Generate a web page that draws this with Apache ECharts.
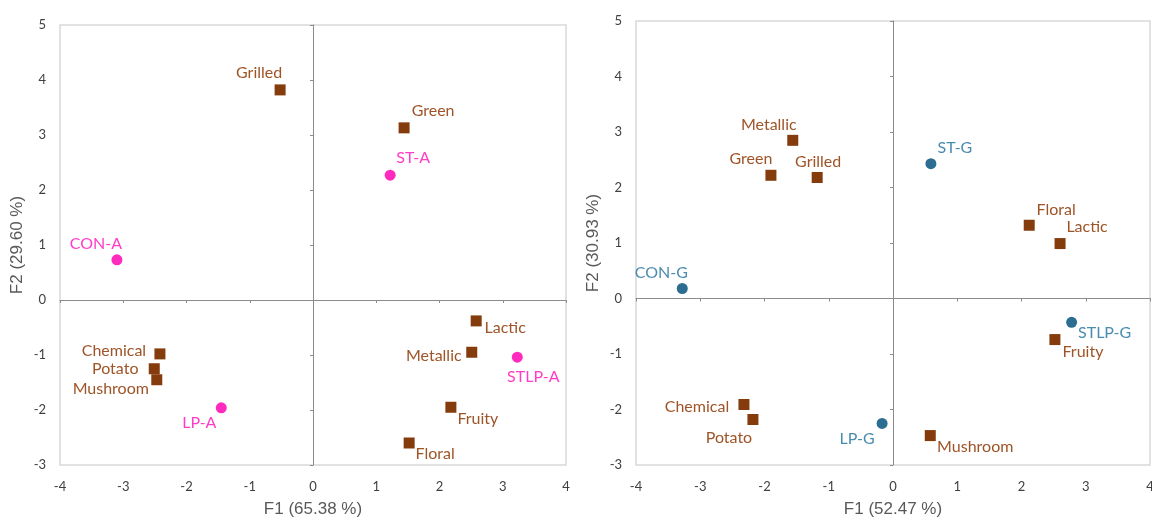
<!DOCTYPE html>
<html><head><meta charset="utf-8">
<script src="https://cdn.jsdelivr.net/npm/echarts@6/dist/echarts.min.js"></script>
<style>html,body{margin:0;padding:0;background:#fff}#c{width:1152px;height:521px}</style>
</head><body><div id="c"></div>
<script>
// ---- Data ----
const xTicks = [-4, -3, -2, -1, 0, 1, 2, 3, 4];
const yTicks = [-3, -2, -1, 0, 1, 2, 3, 4, 5];
const xTitleA = 'F1 (65.38 %)';
const yTitleA = 'F2 (29.60 %)';
const xTitleG = 'F1 (52.47 %)';
const yTitleG = 'F2 (30.93 %)';

const attrNamesA = ['Grilled', 'Green', 'Lactic', 'Metallic', 'Fruity', 'Floral', 'Chemical', 'Potato', 'Mushroom'];
const attrF1A = [-0.52, 1.44, 2.58, 2.51, 2.18, 1.52, -2.42, -2.51, -2.47];
const attrF2A = [3.82, 3.13, -0.38, -0.95, -1.95, -2.60, -0.98, -1.25, -1.45];
const sampleNamesA = ['ST-A', 'CON-A', 'STLP-A', 'LP-A'];
const sampleF1A = [1.22, -3.10, 3.23, -1.45];
const sampleF2A = [2.27, 0.73, -1.04, -1.96];

const attrNamesG = ['Metallic', 'Green', 'Grilled', 'Floral', 'Lactic', 'Fruity', 'Chemical', 'Potato', 'Mushroom'];
const attrF1G = [-1.56, -1.90, -1.18, 2.12, 2.60, 2.52, -2.32, -2.18, 0.58];
const attrF2G = [2.85, 2.22, 2.18, 1.32, 0.99, -0.74, -1.91, -2.18, -2.47];
const sampleNamesG = ['ST-G', 'CON-G', 'STLP-G', 'LP-G'];
const sampleF1G = [0.59, -3.28, 2.78, -0.17];
const sampleF2G = [2.43, 0.18, -0.43, -2.25];

// ---- Styling (label offsets relative to marker, px) ----
const offA = {
  'Grilled': [-21, -17], 'Green': [29, -17], 'Lactic': [29, 7], 'Metallic': [-38, 4],
  'Fruity': [27, 12], 'Floral': [26, 11], 'Chemical': [-46, -3], 'Potato': [-39, 0],
  'Mushroom': [-46, 9], 'ST-A': [23, -17], 'CON-A': [-21, -16], 'STLP-A': [16, 20], 'LP-A': [-22, 15]
};
const offG = {
  'Metallic': [-24, -15], 'Green': [-20, -16], 'Grilled': [1, -16], 'Floral': [27, -15],
  'Lactic': [27, -17], 'Fruity': [28, 12], 'Chemical': [-47, 2], 'Potato': [-24, 18],
  'Mushroom': [45, 11], 'ST-G': [24, -16], 'CON-G': [-21, -16], 'STLP-G': [33, 10], 'LP-G': [-25, 15]
};

const brownMarker = '#843C0C', brownText = '#9E5427';
const pinkMarker = '#FF2BBF', pinkText = '#FF3CC6';
const blueMarker = '#2C6E92', blueText = '#4A8CB0';
const font = 'Lato, "Open Sans", sans-serif';

function pts(names, xs, ys, offs, textColor) {
  return names.map((n, i) => ({
    name: n, value: [xs[i], ys[i]],
    label: { offset: offs[n], color: textColor }
  }));
}

function axesFor(gi, xTitle, yTitle) {
  const min = xTicks[0], max = xTicks[xTicks.length - 1];
  const ymin = yTicks[0], ymax = yTicks[yTicks.length - 1];
  const common = {
    type: 'value', gridIndex: gi, interval: 1, splitLine: { show: false }
  };
  const nameStyle = { color: '#595959', fontSize: 17, fontFamily: '"Liberation Sans", Arial, sans-serif' };
  const x = [
    Object.assign({}, common, {
      min, max, position: 'bottom',
      axisLine: { show: false, onZero: false }, axisTick: { show: false },
      axisLabel: { color: '#404040', fontSize: 13, fontFamily: font, margin: 15 },
      name: xTitle, nameLocation: 'middle', nameGap: 36, nameTextStyle: nameStyle
    }),
    Object.assign({}, common, {
      min, max, position: 'bottom',
      axisLine: { show: true, onZero: true, lineStyle: { color: '#8C8C8C', width: 1 } },
      axisTick: { show: true, length: 3, lineStyle: { color: '#8C8C8C' } },
      axisLabel: { show: false }
    })
  ];
  const y = [
    Object.assign({}, common, {
      min: ymin, max: ymax, position: 'left',
      axisLine: { show: false, onZero: false }, axisTick: { show: false },
      axisLabel: { color: '#404040', fontSize: 13, fontFamily: font, margin: 14 },
      name: yTitle, nameLocation: 'middle', nameGap: 34, nameRotate: 90, nameTextStyle: nameStyle
    }),
    Object.assign({}, common, {
      min: ymin, max: ymax, position: 'left',
      axisLine: { show: true, onZero: true, lineStyle: { color: '#8C8C8C', width: 1 } },
      axisTick: { show: true, length: 3, lineStyle: { color: '#8C8C8C' } },
      axisLabel: { show: false }
    })
  ];
  return { x, y };
}

const aA = axesFor(0, xTitleA, yTitleA);
const aG = axesFor(1, xTitleG, yTitleG);

const labelBase = { show: true, position: 'inside', fontSize: 16, fontFamily: font, formatter: '{b}' };

const option = {
  animation: false,
  backgroundColor: '#ffffff',
  grid: [
    { left: 60, right: 586, top: 25, bottom: 56, outerBoundsMode: 'none', containLabel: false, show: true, borderColor: '#D9D9D9', borderWidth: 1.5, backgroundColor: 'transparent' },
    { left: 636, right: 2, top: 21, bottom: 56, outerBoundsMode: 'none', containLabel: false, show: true, borderColor: '#D9D9D9', borderWidth: 1.5, backgroundColor: 'transparent' }
  ],
  xAxis: [aA.x[0], aA.x[1], aG.x[0], aG.x[1]],
  yAxis: [aA.y[0], aA.y[1], aG.y[0], aG.y[1]],
  series: [
    { type: 'scatter', xAxisIndex: 0, yAxisIndex: 0, symbol: 'rect', symbolSize: 11,
      itemStyle: { color: brownMarker, opacity: 1 }, label: labelBase,
      data: pts(attrNamesA, attrF1A, attrF2A, offA, brownText) },
    { type: 'scatter', xAxisIndex: 0, yAxisIndex: 0, symbol: 'circle', symbolSize: 11,
      itemStyle: { color: pinkMarker, opacity: 1 }, label: labelBase,
      data: pts(sampleNamesA, sampleF1A, sampleF2A, offA, pinkText) },
    { type: 'scatter', xAxisIndex: 2, yAxisIndex: 2, symbol: 'rect', symbolSize: 11,
      itemStyle: { color: brownMarker, opacity: 1 }, label: labelBase,
      data: pts(attrNamesG, attrF1G, attrF2G, offG, brownText) },
    { type: 'scatter', xAxisIndex: 2, yAxisIndex: 2, symbol: 'circle', symbolSize: 11,
      itemStyle: { color: blueMarker, opacity: 1 }, label: labelBase,
      data: pts(sampleNamesG, sampleF1G, sampleF2G, offG, blueText) }
  ]
};

const chart = echarts.init(document.getElementById('c'), null, { renderer: 'canvas' });
chart.setOption(option);
</script>
</body></html>
